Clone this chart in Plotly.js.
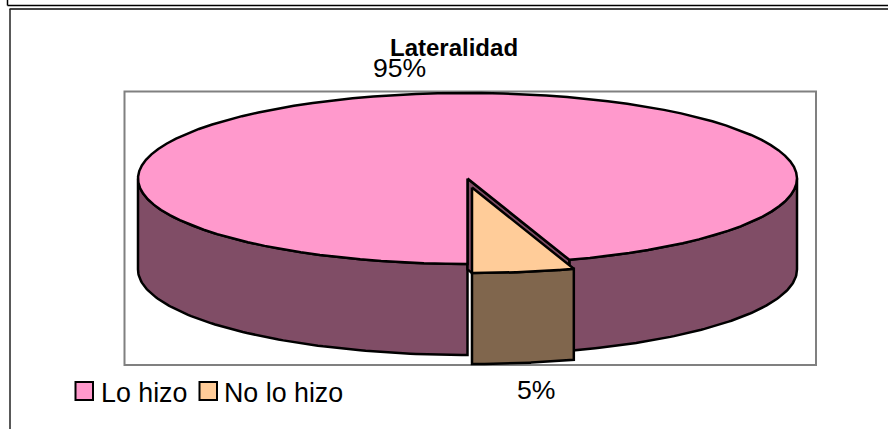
<!DOCTYPE html>
<html><head><meta charset="utf-8">
<script src="https://cdn.plot.ly/plotly-3.0.1.min.js"></script>
<style>html,body{margin:0;padding:0;background:#fff}#c{width:888px;height:429px}</style>
</head><body><div id="c"></div><script>
var categories = ["Lo hizo", "No lo hizo"];
var values = [95, 5];
var valueLabels = ["95%", "5%"];
var topColors = ["#FF99CC", "#FFCC99"];
var sideColors = ["#804D66", "#80664D"];
var chartTitle = "Lateralidad";

var cx = 467.5, cy = 178.5, a = 329.5, b = 85.5, depth = 91, explodeX = 4.5, explodeY = 9;
var total = values[0] + values[1];
var sweep = 360 * values[1] / total;
function pt(ox, oy, deg) { var r = deg * Math.PI / 180; return [ox + a * Math.sin(r), oy + b * Math.cos(r)]; }
function arc(ox, oy, from, to) { var o = [], n = 90; for (var i = 0; i <= n; i++) o.push(pt(ox, oy, from + (to - from) * i / n)); return o; }
function poly(points, fill, name) {
  return { type: "scatter", mode: "lines", x: points.map(function (p) { return p[0]; }), y: points.map(function (p) { return p[1]; }),
    fill: "toself", fillcolor: fill, line: { color: "#000", width: 2.5 }, hoverinfo: "skip",
    showlegend: false, name: name };
}
var sx = cx + explodeX, sy = cy + explodeY;
var traces = [];
var rightTop = arc(cx, cy, sweep, 90);
var rightBot = arc(cx, cy + depth, sweep, 90).reverse();
traces.push(poly(rightTop.concat(rightBot, [rightTop[0]]), sideColors[0], categories[0]));
var leftTop = arc(cx, cy, 270, 360);
var leftBot = arc(cx, cy + depth, 270, 360).reverse();
traces.push(poly(leftTop.concat(leftBot, [leftTop[0]]), sideColors[0], categories[0]));
var c0 = pt(cx, cy, sweep);
traces.push(poly([[cx, cy], c0, [c0[0], c0[1] + depth], [cx, cy + depth], [cx, cy]], sideColors[0], categories[0]));
traces.push(poly([[cx, cy]].concat(arc(cx, cy, sweep, 360), [[cx, cy]]), topColors[0], categories[0]));
var sTop = arc(sx, sy, 0, sweep), sBot = arc(sx, sy + depth, 0, sweep).reverse();
traces.push(poly(sTop.concat(sBot, [sTop[0]]), sideColors[1], categories[1]));
traces.push(poly([[sx, sy]].concat(sTop, [[sx, sy]]), topColors[1], categories[1]));

function rect(x0, y0, x1, y1, color, w, fill) {
  return { type: "rect", xref: "x", yref: "y", x0: x0, y0: y0, x1: x1, y1: y1, layer: "below",
    line: { color: color, width: w }, fillcolor: fill || "rgba(0,0,0,0)" };
}
function seg(x0, y0, x1, y1, color, w) {
  return { type: "line", xref: "x", yref: "y", x0: x0, y0: y0, x1: x1, y1: y1, line: { color: color, width: w } };
}
var font = "Liberation Sans, Arial, sans-serif";
function label(text, x, y, size, bold) {
  return { xref: "x", yref: "y", x: x, y: y, text: bold ? "<b>" + text + "</b>" : text, showarrow: false,
    xanchor: "center", yanchor: "middle", font: { family: font, size: size, color: "#000" } };
}
var layout = {
  width: 888, height: 429, margin: { l: 0, r: 0, t: 0, b: 0 }, paper_bgcolor: "#fff", plot_bgcolor: "#fff", showlegend: false,
  xaxis: { range: [0, 888], visible: false, fixedrange: true },
  yaxis: { range: [429, 0], visible: false, fixedrange: true },
  shapes: [
    rect(124.5, 91.5, 816, 365, "#808080", 2),
    seg(7.5, 0, 7.5, 5.5, "#000", 1.5), seg(7.5, 5.5, 888, 5.5, "#000", 1.5),
    seg(9.5, 9, 888, 9, "#444", 2), seg(10, 9, 10, 429, "#222", 1.5),
    rect(75.5, 382, 93, 400, "#000", 2, topColors[0]),
    rect(199.5, 382, 217, 400, "#000", 2, topColors[1])
  ],
  annotations: [
    label(chartTitle, 454, 47, 24, true),
    label(valueLabels[0], 399, 67.5, 26.6),
    label(valueLabels[1], 536, 390, 26.6),
    label(categories[0], 143.5, 393, 26.8),
    label(categories[1], 283.5, 393, 26.8)
  ]
};
Plotly.newPlot("c", traces, layout, { displayModeBar: false, staticPlot: true });
</script></body></html>
